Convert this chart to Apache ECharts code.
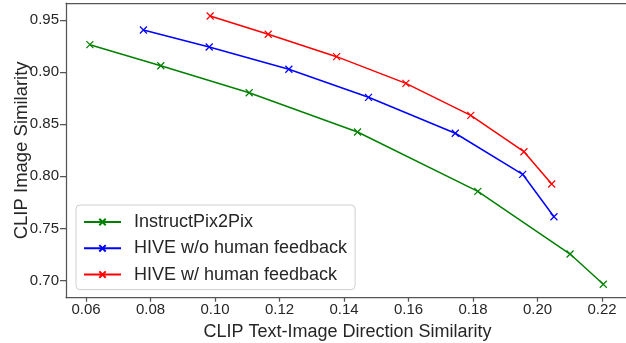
<!DOCTYPE html>
<html>
<head>
<meta charset="utf-8">
<script src="https://cdn.jsdelivr.net/npm/echarts@6/dist/echarts.min.js"></script>
<style>
  html, body { margin: 0; padding: 0; background: #fff; }
  #container { width: 626px; height: 343px; }
</style>
</head>
<body>
<div id="container"></div>
<script>
var seriesNames = ['InstructPix2Pix', 'HIVE w/o human feedback', 'HIVE w/ human feedback'];
var seriesColors = ['#008000', '#0000ff', '#ff0000'];

var ip2pX = [0.0612, 0.0832, 0.1106, 0.1442, 0.1815, 0.2101, 0.2204];
var ip2pY = [0.9263, 0.9061, 0.8802, 0.8425, 0.7856, 0.7254, 0.6964];
var hiveNoHfX = [0.0778, 0.0982, 0.1229, 0.1476, 0.1745, 0.1954, 0.2051];
var hiveNoHfY = [0.9404, 0.9241, 0.9027, 0.8758, 0.8413, 0.8019, 0.7612];
var hiveHfX = [0.0985, 0.1165, 0.1377, 0.1592, 0.1793, 0.1958, 0.2044];
var hiveHfY = [0.9538, 0.9363, 0.9148, 0.8892, 0.8584, 0.8236, 0.7926];

var xTicks = [0.06, 0.08, 0.10, 0.12, 0.14, 0.16, 0.18, 0.20, 0.22];
var yTicks = [0.70, 0.75, 0.80, 0.85, 0.90, 0.95];

var font = 'Liberation Sans, Arial, sans-serif';
var crossMark = 'path://M0,0L10,10M10,0L0,10';
var spine = {color: '#555', width: 1.25};

function pairs(xs, ys) {
    return xs.map(function (x, i) { return [x, ys[i]]; });
}

var allData = [pairs(ip2pX, ip2pY), pairs(hiveNoHfX, hiveNoHfY), pairs(hiveHfX, hiveHfY)];

var myChart = echarts.init(document.getElementById('container'), null, {renderer: 'canvas'});

var option = {
    animation: false,
    textStyle: {fontFamily: font},
    grid: {
        left: 66, top: 3, right: -3, bottom: 45.3,
        outerBoundsMode: 'none',
        containLabel: false
    },
    legend: {
        orient: 'vertical',
        left: 76, top: 205,
        data: seriesNames,
        itemWidth: 37,
        itemHeight: 8,
        itemGap: 6.3,
        padding: [7, 8, 5, 7],
        backgroundColor: 'rgba(255,255,255,0.85)',
        borderColor: '#d0d0d0',
        borderWidth: 1,
        borderRadius: 4,
        textStyle: {
            fontFamily: font,
            fontSize: 18,
            lineHeight: 20,
            color: '#262626',
            padding: [0, 0, 0, 8]
        }
    },
    xAxis: [{
        type: 'value',
        min: 0.0538,
        max: 0.22837,
        name: 'CLIP Text-Image Direction Similarity',
        nameLocation: 'middle',
        nameGap: 25,
        nameMoveOverlap: false,
        nameTextStyle: {fontFamily: font, fontSize: 18, color: '#262626'},
        axisLine: {show: true, onZero: false, lineStyle: spine},
        splitLine: {show: false},
        axisTick: {show: true, length: 4, customValues: xTicks, lineStyle: spine},
        axisLabel: {
            customValues: xTicks,
            margin: 5,
            fontFamily: font, fontSize: 15, color: '#262626',
            formatter: function (v) { return v.toFixed(2); }
        }
    }, {
        // top spine only
        type: 'value',
        position: 'top',
        min: 0.0538,
        max: 0.22837,
        axisLine: {show: true, onZero: false, lineStyle: spine},
        axisTick: {show: false},
        axisLabel: {show: false},
        splitLine: {show: false}
    }],
    yAxis: {
        type: 'value',
        min: 0.6835,
        max: 0.9663,
        name: 'CLIP Image Similarity',
        nameLocation: 'middle',
        nameGap: 35,
        nameMoveOverlap: false,
        nameTextStyle: {fontFamily: font, fontSize: 18.5, color: '#262626'},
        axisLine: {show: true, onZero: false, lineStyle: spine},
        splitLine: {show: false},
        axisTick: {show: true, length: 6, customValues: yTicks, lineStyle: spine},
        axisLabel: {
            customValues: yTicks,
            margin: 7,
            fontFamily: font, fontSize: 15, color: '#262626',
            formatter: function (v) { return v.toFixed(2); }
        }
    },
    series: seriesNames.map(function (name, i) {
        return {
            name: name,
            type: 'line',
            data: allData[i],
            symbol: crossMark,
            symbolSize: 7,
            showAllSymbol: true,
            lineStyle: {color: seriesColors[i], width: 1.5},
            itemStyle: {color: seriesColors[i], borderColor: seriesColors[i], borderWidth: 1.2},
            emphasis: {disabled: true}
        };
    })
};

myChart.setOption(option, true);
</script>
</body>
</html>
